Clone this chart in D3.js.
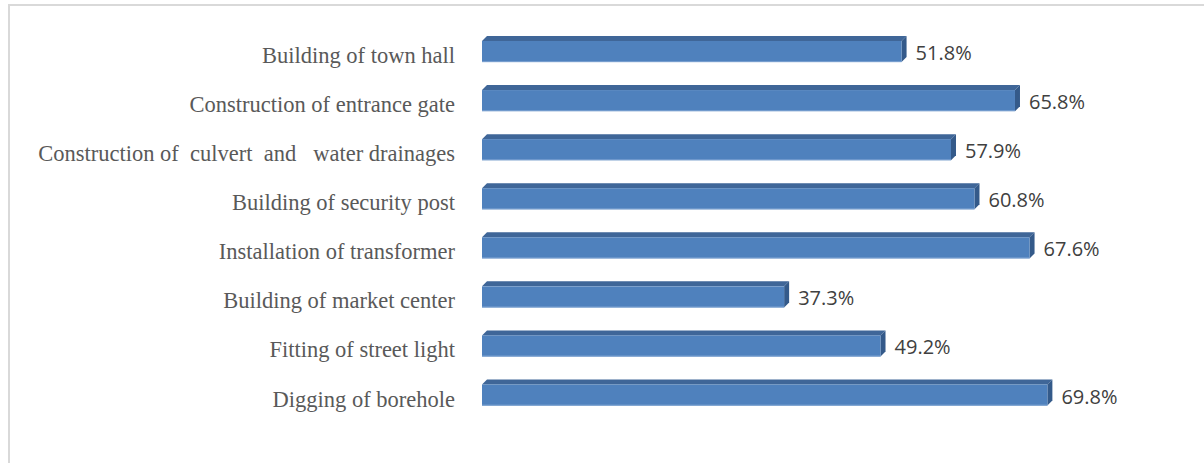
<!DOCTYPE html>
<html>
<head>
<meta charset="utf-8">
<script src="https://cdn.jsdelivr.net/npm/d3@7"></script>
<style>
html,body{margin:0;padding:0;background:#fff;}
svg{display:block;}
</style>
</head>
<body>
<svg id="chart" width="1204" height="463"></svg>
<script>
const categories = [
  "Building of town hall",
  "Construction of entrance gate",
  "Construction of  culvert  and   water drainages",
  "Building of security post",
  "Installation of transformer",
  "Building of market center",
  "Fitting of street light",
  "Digging of borehole"
];
const values = [51.8, 65.8, 57.9, 60.8, 67.6, 37.3, 49.2, 69.8];
const valueLabels = ["51.8%", "65.8%", "57.9%", "60.8%", "67.6%", "37.3%", "49.2%", "69.8%"];

const svg = d3.select("#chart");

// outer frame (light grey)
svg.append("path")
  .attr("d", "M9,470 L9,5 L1210,5")
  .attr("fill", "none")
  .attr("stroke", "#d9d9d9")
  .attr("stroke-width", 2);

const x = d3.scaleLinear().domain([0, 80]).range([482, 482 + 80 * 8.1]);
const y = d3.scaleBand().domain(categories).range([27, 419.6]).paddingInner(0.57).paddingOuter(0.285);

const depth = 5;
const bh = y.bandwidth();

const g = svg.append("g");
const bars = g.selectAll("g.bar").data(categories).enter().append("g").attr("class", "bar");

bars.each(function(c, i) {
  const sel = d3.select(this);
  const x0 = x(0), x1 = x(values[i]);
  const yc = y(c) + y.bandwidth() / 2;
  const yt = yc - bh / 2;
  const yb = yc + bh / 2;
  sel.append("path")
    .attr("d", `M${x0},${yt} L${x0 + depth},${yt - depth} L${x1 + depth},${yt - depth} L${x1},${yt} Z`)
    .attr("fill", "#3f6698");
  sel.append("path")
    .attr("d", `M${x1},${yt} L${x1 + depth},${yt - depth} L${x1 + depth},${yb - depth} L${x1},${yb} Z`)
    .attr("fill", "#345a8a");
  sel.append("rect")
    .attr("x", x0).attr("y", yt)
    .attr("width", x1 - x0).attr("height", bh)
    .attr("fill", "#4f81bd");
  sel.append("line")
    .attr("x1", x0).attr("x2", x1).attr("y1", yb - 0.5).attr("y2", yb - 0.5)
    .attr("stroke", "#7aa0d0").attr("stroke-width", 1);
  sel.append("text")
    .attr("x", x1 + depth + 9)
    .attr("y", yc + 1)
    .attr("dominant-baseline", "central")
    .attr("font-family", "'Open Sans', sans-serif")
    .attr("font-size", 20)
    .attr("fill", "#404040")
    .text(valueLabels[i]);
});

g.selectAll("text.cat").data(categories).enter().append("text")
  .attr("class", "cat")
  .attr("x", 455)
  .attr("y", d => y(d) + y.bandwidth() / 2 + 4)
  .attr("text-anchor", "end")
  .attr("dominant-baseline", "central")
  .attr("font-family", "'Liberation Serif', 'Times New Roman', serif")
  .attr("font-size", 22.5)
  .attr("fill", "#595959")
  .style("white-space", "pre")
  .text(d => d);
</script>
</body>
</html>
